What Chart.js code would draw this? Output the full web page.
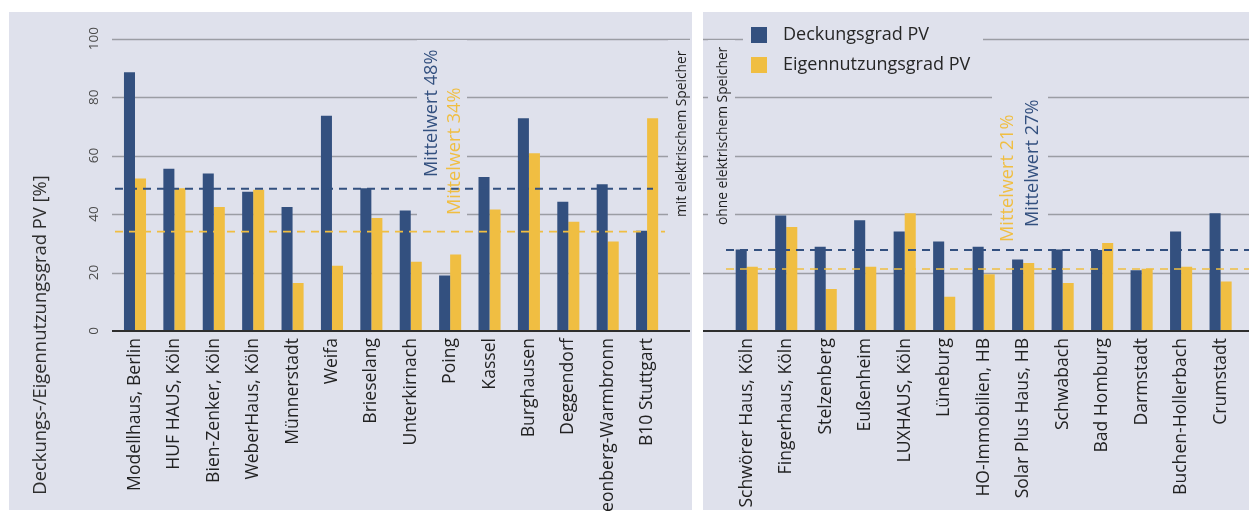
<!DOCTYPE html>
<html>
<head>
<meta charset="utf-8">
<script src="https://cdn.jsdelivr.net/npm/chart.js@4.4.1/dist/chart.umd.min.js"></script>
<style>
  html, body { margin: 0; padding: 0; background: #ffffff; }
  body { width: 1249px; height: 513px; position: relative; overflow: hidden; font-family: "Open Sans", sans-serif; }
  .panel { position: absolute; top: 12px; height: 498px; background: #dfe1ec; }
  #bg1 { left: 9px; width: 683px; }
  #bg2 { left: 703px; width: 546px; }
  #wrap1 { position: absolute; left: 0; top: 0; width: 692px; height: 511px; }
  #wrap2 { position: absolute; left: 703px; top: 0; width: 546px; height: 511px; }
</style>
</head>
<body>
<div class="panel" id="bg1"></div>
<div class="panel" id="bg2"></div>
<div id="wrap1"><canvas id="c1" width="692" height="511"></canvas></div>
<div id="wrap2"><canvas id="c2" width="546" height="511"></canvas></div>
<script>
// ---------- data ----------
const seriesNames = ['Deckungsgrad PV', 'Eigennutzungsgrad PV'];
const categoriesMit = ['Modellhaus, Berlin', 'HUF HAUS, Köln', 'Bien-Zenker, Köln', 'WeberHaus, Köln', 'Münnerstadt', 'Weifa', 'Brieselang', 'Unterkirnach', 'Poing', 'Kassel', 'Burghausen', 'Deggendorf', 'Leonberg-Warmbronn', 'B10 Stuttgart'];
const deckungMit = [88.5, 55.5, 53.9, 47.6, 42.4, 73.6, 48.8, 41.2, 19.0, 52.7, 72.8, 44.2, 50.2, 34.3];
const eigenMit   = [52.2, 48.8, 42.4, 48.3, 16.4, 22.3, 38.7, 23.7, 26.2, 41.6, 60.8, 37.4, 30.6, 72.8];
const categoriesOhne = ['Schwörer Haus, Köln', 'Fingerhaus, Köln', 'Stelzenberg', 'Eußenheim', 'LUXHAUS, Köln', 'Lüneburg', 'HO-Immobilien, HB', 'Solar Plus Haus, HB', 'Schwabach', 'Bad Homburg', 'Darmstadt', 'Buchen-Hollerbach', 'Crumstadt'];
const deckungOhne = [27.9, 39.5, 28.8, 37.9, 34.0, 30.6, 28.8, 24.5, 27.9, 27.7, 20.8, 34.0, 40.3];
const eigenOhne   = [22.0, 35.6, 14.4, 22.0, 40.3, 11.7, 19.4, 23.3, 16.4, 30.1, 21.3, 22.0, 16.9];
const meanMit  = [48.7, 34.0];   // Deckungsgrad, Eigennutzungsgrad
const meanOhne = [27.7, 21.2];
const meanLabelsMit  = ['Mittelwert 48%', 'Mittelwert 34%'];
const meanLabelsOhne = ['Mittelwert 27%', 'Mittelwert 21%'];
const yTicks = [0, 20, 40, 60, 80, 100];
const yTitle = 'Deckungs-/Eigennutzungsgrad PV [%]';
const panelTitles = ['mit elektrischem Speicher', 'ohne elektrischem Speicher'];

// ---------- styles ----------
const BLUE = '#33507f';
const YELLOW = '#f0be42';
const BG = '#dfe1ec';
const FONT = '"Open Sans", sans-serif';

function rotText(ctx, text, x, y, color, size, align) {
  ctx.save();
  ctx.translate(x, y);
  ctx.rotate(-Math.PI / 2);
  ctx.fillStyle = color;
  ctx.font = size + 'px ' + FONT;
  ctx.textAlign = align || 'left';
  ctx.textBaseline = 'middle';
  ctx.fillText(text, 0, 0);
  ctx.restore();
}

function makePlugin(cfg) {
  return {
    id: 'panelDeco',
    beforeDatasetsDraw(chart) {
      const ctx = chart.ctx, y = chart.scales.y;
      ctx.save();
      // grid lines
      ctx.strokeStyle = '#9b9da4';
      ctx.lineWidth = 1.5;
      yTicks.forEach(v => {
        if (v === 0) return;
        const py = Math.round(y.getPixelForValue(v)) + 0.5;
        ctx.beginPath(); ctx.moveTo(cfg.gridX0, py); ctx.lineTo(cfg.gridX1, py); ctx.stroke();
      });
      // label boxes (interrupt grid lines)
      ctx.fillStyle = BG;
      cfg.boxes.forEach(b => ctx.fillRect(b[0], b[1], b[2], b[3]));
      // y tick labels
      if (cfg.tickX) {
        yTicks.forEach(v => rotText(ctx, String(v), cfg.tickX, y.getPixelForValue(v), '#4a4a4a', 13.5, 'center'));
      }
      ctx.restore();
    },
    afterDatasetsDraw(chart) {
      const ctx = chart.ctx, y = chart.scales.y;
      ctx.save();
      // baseline axis
      const p0 = y.getPixelForValue(0);
      ctx.strokeStyle = '#2e2e2e';
      ctx.lineWidth = 2;
      ctx.beginPath(); ctx.moveTo(cfg.gridX0, p0); ctx.lineTo(cfg.gridX1, p0); ctx.stroke();
      // mean lines
      const colors = [BLUE, YELLOW];
      cfg.means.forEach((m, i) => {
        const py = y.getPixelForValue(m);
        ctx.strokeStyle = colors[i];
        ctx.lineWidth = i === 0 ? 2 : 1.6;
        ctx.setLineDash([8, 6]);
        ctx.beginPath(); ctx.moveTo(cfg.meanX0, py); ctx.lineTo(cfg.meanX1[i], py); ctx.stroke();
      });
      ctx.setLineDash([]);
      // mean labels
      cfg.meanLabels.forEach((t, i) => rotText(ctx, t, cfg.meanLabelPos[i][0], cfg.meanLabelPos[i][1], colors[i], 18.2, 'left'));
      // panel title
      rotText(ctx, cfg.title, cfg.titlePos[0], cfg.titlePos[1], '#1e1e1e', 13.8, 'left');
      // y axis title
      if (cfg.yTitlePos) rotText(ctx, yTitle, cfg.yTitlePos[0], cfg.yTitlePos[1], '#2e2e2e', 18.4, 'center');
      // legend
      if (cfg.legend) {
        const L = cfg.legend;
        chart.data.datasets.forEach((ds, i) => {
          const cy = L.y + i * L.step;
          ctx.fillStyle = ds.backgroundColor;
          ctx.fillRect(L.x, cy - 8, 16, 16);
          ctx.fillStyle = '#262626';
          ctx.font = '18px ' + FONT;
          ctx.textAlign = 'left';
          ctx.textBaseline = 'middle';
          ctx.fillText(ds.label, L.x + 32, cy);
        });
      }
      ctx.restore();
    }
  };
}

function makeChart(id, cats, deck, eigen, padding, cfg) {
  return new Chart(document.getElementById(id), {
    type: 'bar',
    data: {
      labels: cats,
      datasets: [
        { label: seriesNames[0], data: deck, backgroundColor: BLUE, borderWidth: 0 },
        { label: seriesNames[1], data: eigen, backgroundColor: YELLOW, borderWidth: 0 }
      ]
    },
    options: {
      responsive: false,
      animation: false,
      events: [],
      layout: { padding: padding },
      datasets: { bar: { categoryPercentage: 0.56, barPercentage: 1.0 } },
      plugins: { legend: { display: false }, tooltip: { enabled: false } },
      scales: {
        x: {
          grid: { display: false, drawTicks: false },
          border: { display: false },
          ticks: {
            autoSkip: false, minRotation: 90, maxRotation: 90, padding: 7,
            color: '#222222', font: { family: FONT, size: 17.6 }
          },
          afterFit(scale) { scale.height = 180; }
        },
        y: { display: false, min: 0, max: 100 }
      }
    },
    plugins: [makePlugin(cfg)]
  });
}

makeChart('c1', categoriesMit, deckungMit, eigenMit,
  { left: 115.3, right: 25.2, top: 38.7, bottom: 0 },
  {
    gridX0: 112, gridX1: 690,
    boxes: [[417, 40, 50, 182], [668, 40, 24, 185]],
    tickX: 94,
    means: meanMit, meanX0: 115, meanX1: [653, 665],
    meanLabels: meanLabelsMit, meanLabelPos: [[432, 177], [455, 215]],
    title: panelTitles[0], titlePos: [682, 217],
    yTitlePos: [41, 335]
  });

makeChart('c2', categoriesOhne, deckungOhne, eigenOhne,
  { left: 24, right: 7.3, top: 38.7, bottom: 0 },
  {
    gridX0: 0, gridX1: 546,
    boxes: [[5, 40, 27, 190], [289, 72, 56, 183], [40, 18, 240, 64]],
    tickX: null,
    means: meanOhne, meanX0: 23, meanX1: [546, 546],
    meanLabels: meanLabelsOhne, meanLabelPos: [[330, 227], [305, 242]],
    title: panelTitles[1], titlePos: [20, 225],
    yTitlePos: null,
    legend: { x: 48, y: 35, step: 30 }
  });
</script>
</body>
</html>
